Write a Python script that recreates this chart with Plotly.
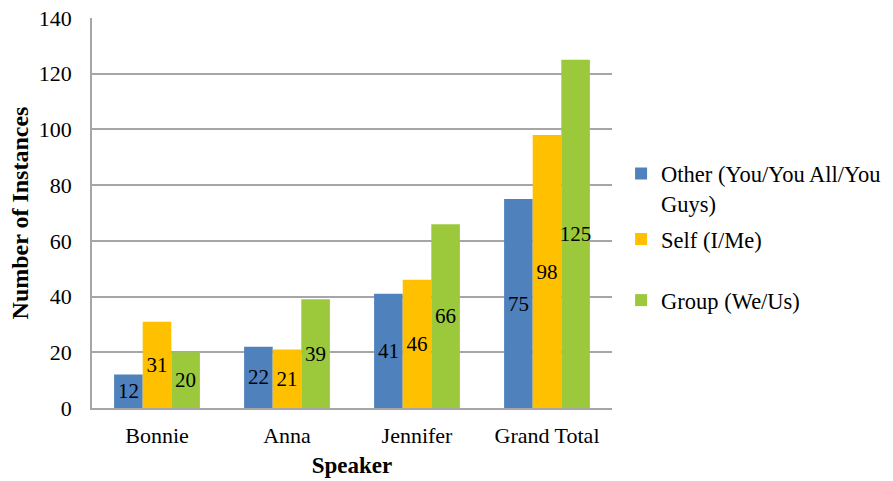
import plotly.graph_objects as go

speakers = ["Bonnie", "Anna", "Jennifer", "Grand Total"]
other_vals = [12, 22, 41, 75]
self_vals = [31, 21, 46, 98]
group_vals = [20, 39, 66, 125]

series = [
    ("Other (You/You All/You<br>Guys)", other_vals, "#4F81BD", "legend"),
    ("Self (I/Me)", self_vals, "#FFC000", "legend2"),
    ("Group (We/Us)", group_vals, "#9BC93B", "legend3"),
]

FONT = "Liberation Serif"

fig = go.Figure()
for name, vals, color, leg in series:
    fig.add_trace(go.Bar(
        x=speakers, y=vals, name=name,
        marker=dict(color=color, line=dict(width=0)),
        text=[str(v) for v in vals],
        textposition="inside", insidetextanchor="middle",
        textangle=0, constraintext="none",
        textfont=dict(family=FONT, size=21, color="#000000"),
        legend=leg,
    ))

def leg_cfg(ypos):
    # legends are placed relative to the whole page so they don't shrink the plot
    return dict(
        font=dict(family=FONT, size=22.5, color="#000000"),
        bgcolor="rgba(0,0,0,0)", xanchor="left", yanchor="top",
        xref="container", yref="container",
        x=0.6955, y=ypos, valign="top",
    )

fig.update_layout(
    width=893, height=481,
    margin=dict(l=92, r=281, t=18, b=73),
    paper_bgcolor="white", plot_bgcolor="white",
    barmode="group", bargap=0.34, bargroupgap=0,
    showlegend=True,
    font=dict(family=FONT, size=22, color="#000000"),
    legend=leg_cfg(0.683),
    legend2=leg_cfg(0.547),
    legend3=leg_cfg(0.420),
    xaxis=dict(
        title=dict(text="<b>Speaker</b>", font=dict(family=FONT, size=23), standoff=10),
        showgrid=False, showline=True, linecolor="#A6A6A6", linewidth=1.5,
        ticks="", tickfont=dict(family=FONT, size=22),
        ticklabelstandoff=7, automargin=False,
    ),
    yaxis=dict(
        title=dict(text="<b>Number of Instances</b>", font=dict(family=FONT, size=24), standoff=3),
        range=[0, 140], dtick=20, tick0=0,
        showgrid=True, gridcolor="#A6A6A6", gridwidth=1.5,
        showline=True, linecolor="#A6A6A6", linewidth=1.5,
        zeroline=False, ticks="", tickfont=dict(family=FONT, size=22),
        ticklabelstandoff=14, automargin=False,
    ),
)

fig.write_html("out.html")
